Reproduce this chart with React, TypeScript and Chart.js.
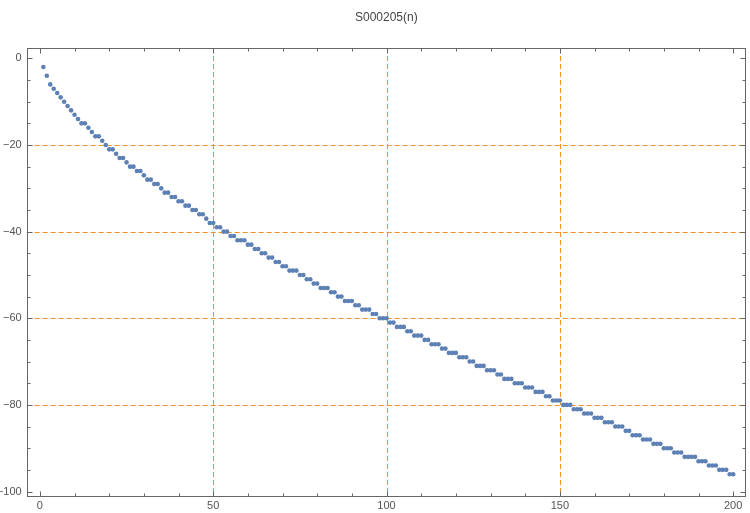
import React, { useEffect, useRef } from "react";
import { Chart, registerables } from "chart.js";

Chart.register(...registerables);

const TITLE = "S000205(n)";
const N_START = 1;
const VALUES: number[] = [
  -2, -4, -6, -7, -8, -9, -10, -11, -12, -13,
  -14, -15, -15, -16, -17, -18, -18, -19, -20, -21,
  -21, -22, -23, -23, -24, -25, -25, -26, -26, -27,
  -28, -28, -29, -29, -30, -31, -31, -32, -32, -33,
  -33, -34, -34, -35, -35, -36, -36, -37, -38, -38,
  -39, -39, -40, -40, -41, -41, -42, -42, -42, -43,
  -43, -44, -44, -45, -45, -46, -46, -47, -47, -48,
  -48, -49, -49, -49, -50, -50, -51, -51, -52, -52,
  -53, -53, -53, -54, -54, -55, -55, -56, -56, -56,
  -57, -57, -58, -58, -58, -59, -59, -60, -60, -60,
  -61, -61, -62, -62, -62, -63, -63, -64, -64, -64,
  -65, -65, -66, -66, -66, -67, -67, -68, -68, -68,
  -69, -69, -69, -70, -70, -71, -71, -71, -72, -72,
  -72, -73, -73, -74, -74, -74, -75, -75, -75, -76,
  -76, -76, -77, -77, -77, -78, -78, -79, -79, -79,
  -80, -80, -80, -81, -81, -81, -82, -82, -82, -83,
  -83, -83, -84, -84, -84, -85, -85, -85, -86, -86,
  -87, -87, -87, -88, -88, -88, -89, -89, -89, -90,
  -90, -90, -91, -91, -91, -92, -92, -92, -92, -93,
  -93, -93, -94, -94, -94, -95, -95, -95, -96, -96,
];

const X_TICKS = [0, 50, 100, 150, 200];
const X_MINOR = [10, 20, 30, 40, 60, 70, 80, 90, 110, 120, 130, 140, 160, 170, 180, 190];
const Y_TICKS = [0, -20, -40, -60, -80, -100];
const Y_MINOR = [
  -5, -10, -15, -25, -30, -35, -45, -50, -55, -65, -70, -75, -85, -90, -95,
];
const X_GRID = [50, 100, 150];
const Y_GRID = [-20, -40, -60, -80];

const X_MIN = -3.8;
const X_MAX = 203.7;
const Y_MIN = -101.2;
const Y_MAX = 2.4;

const FONT = "'Liberation Sans', Arial, sans-serif";
const POINT_COLOR = "#5e81b5";
const GRID_COLOR = "rgb(245,145,30)";
const FRAME_COLOR = "#666666";
const LABEL_COLOR = "#555555";

const framePlugin = {
  id: "mmaFrame",
  beforeDatasetsDraw(chart: any) {
    const { ctx, chartArea, scales } = chart;
    const { left, right, top, bottom } = chartArea;
    const xs = scales.x;
    const ys = scales.y;
    ctx.save();
    ctx.strokeStyle = GRID_COLOR;
    ctx.lineWidth = 1;
    ctx.setLineDash([5, 3]);
    for (const v of X_GRID) {
      const px = Math.round(xs.getPixelForValue(v)) + 0.5;
      ctx.beginPath();
      ctx.moveTo(px, top);
      ctx.lineTo(px, bottom);
      ctx.stroke();
    }
    for (const v of Y_GRID) {
      const py = Math.round(ys.getPixelForValue(v)) + 0.5;
      ctx.beginPath();
      ctx.moveTo(left, py);
      ctx.lineTo(right, py);
      ctx.stroke();
    }
    ctx.restore();
  },
  afterDatasetsDraw(chart: any) {
    const { ctx, chartArea, scales } = chart;
    const { left, right, top, bottom } = chartArea;
    const xs = scales.x;
    const ys = scales.y;
    ctx.save();
    ctx.strokeStyle = FRAME_COLOR;
    ctx.lineWidth = 1;
    ctx.setLineDash([]);
    const L = Math.round(left) + 0.5;
    const R = Math.round(right) - 0.5;
    const T = Math.round(top) + 0.5;
    const B = Math.round(bottom) - 0.5;
    ctx.strokeRect(L, T, R - L, B - T);
    const xTick = (v: number, len: number) => {
      const px = Math.round(xs.getPixelForValue(v)) + 0.5;
      ctx.beginPath();
      ctx.moveTo(px, B);
      ctx.lineTo(px, B - len);
      ctx.moveTo(px, T);
      ctx.lineTo(px, T + len);
      ctx.stroke();
    };
    const yTick = (v: number, len: number) => {
      const py = Math.round(ys.getPixelForValue(v)) + 0.5;
      ctx.beginPath();
      ctx.moveTo(L, py);
      ctx.lineTo(L + len, py);
      ctx.moveTo(R, py);
      ctx.lineTo(R - len, py);
      ctx.stroke();
    };
    X_TICKS.forEach((v) => xTick(v, 5));
    X_MINOR.forEach((v) => xTick(v, 3));
    Y_TICKS.forEach((v) => yTick(v, 5));
    Y_MINOR.forEach((v) => yTick(v, 3));
    ctx.restore();
  },
};

export default function App() {
  const canvasRef = useRef<HTMLCanvasElement | null>(null);

  useEffect(() => {
    document.body.style.margin = "0";
    const canvas = canvasRef.current;
    if (!canvas) return;
    const points = VALUES.map((v, i) => ({ x: N_START + i, y: v }));
    const chart = new Chart(canvas, {
      type: "scatter",
      data: {
        datasets: [
          {
            data: points,
            backgroundColor: POINT_COLOR,
            borderWidth: 0,
            pointRadius: 2.3,
          },
        ],
      },
      options: {
        animation: false,
        responsive: false,
        maintainAspectRatio: false,
        layout: { padding: { left: 0, right: 2, top: 0, bottom: 0 } },
        plugins: {
          legend: { display: false },
          tooltip: { enabled: false },
          title: {
            display: true,
            text: TITLE,
            fullSize: false,
            color: "#444444",
            font: { family: FONT, size: 12, weight: "normal" },
            padding: { top: 10.8, bottom: 22.8 },
          },
        },
        scales: {
          x: {
            type: "linear",
            min: X_MIN,
            max: X_MAX,
            grid: { display: false, drawTicks: false },
            border: { display: false },
            afterBuildTicks: (s: any) => {
              s.ticks = X_TICKS.map((v) => ({ value: v }));
            },
            afterFit: (s: any) => {
              s.height = 16.3;
            },
            ticks: {
              color: LABEL_COLOR,
              font: { family: FONT, size: 11 },
              padding: 3,
              maxRotation: 0,
              autoSkip: false,
            },
          },
          y: {
            type: "linear",
            min: Y_MIN,
            max: Y_MAX,
            grid: { display: false, drawTicks: false },
            border: { display: false },
            afterBuildTicks: (s: any) => {
              s.ticks = Y_TICKS.map((v) => ({ value: v }));
            },
            afterFit: (s: any) => {
              s.width = 26.7;
            },
            ticks: {
              color: LABEL_COLOR,
              font: { family: FONT, size: 11 },
              padding: 5,
              autoSkip: false,
              callback: (v: any) =>
                Number(v) < 0 ? "\u2212" + Math.abs(Number(v)) : String(v),
            },
          },
        },
      },
      plugins: [framePlugin],
    });
    return () => chart.destroy();
  }, []);

  return (
    <div style={{ width: 750, height: 513, background: "#ffffff" }}>
      <canvas ref={canvasRef} width={750} height={513} />
    </div>
  );
}
